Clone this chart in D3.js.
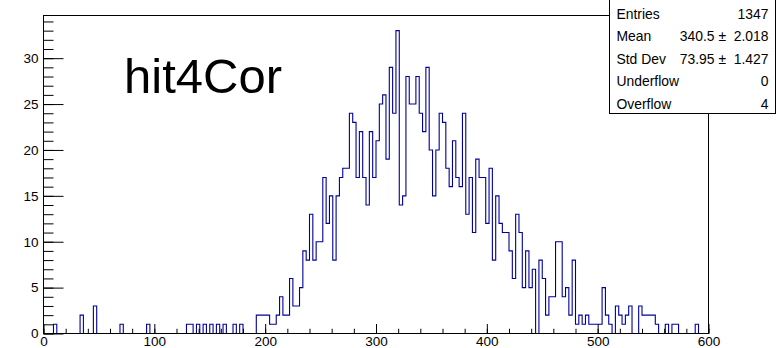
<!DOCTYPE html>
<html>
<head>
<meta charset="utf-8">
<script src="https://cdn.jsdelivr.net/npm/d3@7"></script>
<style>
  html, body { margin: 0; padding: 0; background: #ffffff; }
  svg { display: block; }
  text { font-family: "Liberation Sans", Arial, Helvetica, sans-serif; fill: #000; }
</style>
</head>
<body>
<svg id="chart" width="776" height="348"></svg>
<script>
// Histogram "hit4Cor": 200 bins from 0 to 600
const histName = "hit4Cor";
const xMin = 0;
const xMax = 600;
const counts = [
  0, 0, 0, 1, 0, 0, 0, 0, 0, 0,
  0, 2, 0, 0, 0, 3, 0, 0, 0, 0,
  0, 0, 0, 1, 0, 0, 0, 0, 0, 0,
  0, 1, 0, 0, 0, 0, 0, 0, 0, 0,
  0, 0, 0, 1, 1, 0, 1, 0, 1, 0,
  1, 0, 1, 0, 1, 0, 0, 1, 0, 1,
  0, 0, 0, 0, 2, 2, 2, 2, 1, 1,
  2, 4, 2, 2, 6, 3, 3, 5, 9, 8,
  13, 8, 10, 10, 17, 12, 15, 8, 15, 17,
  18, 18, 24, 23, 17, 22, 17, 14, 22, 17,
  21, 25, 26, 19, 29, 24, 33, 14, 15, 28,
  25, 25, 28, 24, 22, 29, 20, 15, 20, 24,
  23, 18, 16, 21, 17, 16, 24, 13, 17, 11,
  19, 17, 17, 12, 18, 8, 15, 12, 11, 11,
  9, 6, 13, 11, 5, 9, 5, 7, 0, 8,
  6, 2, 4, 4, 10, 10, 4, 5, 2, 8,
  1, 2, 1, 2, 1, 1, 1, 1, 5, 2,
  1, 0, 3, 2, 1, 2, 3, 0, 0, 3,
  2, 2, 2, 2, 1, 0, 0, 1, 0, 1,
  1, 0, 0, 0, 0, 0, 1, 0, 0, 0
];

// Axis divisions
const xMajorTicks = [0, 100, 200, 300, 400, 500, 600];
const xMinorTicks = d3.range(0, 601, 20);
const yMajorTicks = [0, 5, 10, 15, 20, 25, 30];
const yMinorTicks = d3.range(0, 35, 1);

// Statistics box
const statNames = ["Entries", "Mean", "Std Dev", "Underflow", "Overflow"];
const statValues = ["1347", "340.5 \u00b1  2.018", "73.95 \u00b1  1.427", "0", "4"];

// ---- layout ----
const frame = { left: 43.5, right: 708.5, top: 15.5, bottom: 333.5 };
const lineColor = "#000099";
const labelSize = "13.5px";
const statSize = "13.9px";

const svg = d3.select("#chart");

const x = d3.scaleLinear().domain([xMin, xMax]).range([frame.left, frame.right]);
const yTop = d3.max(counts) * 1.05;
const y = d3.scaleLinear().domain([0, yTop]).range([frame.bottom, frame.top]);

// ---- histogram outline ----
const binWidth = (xMax - xMin) / counts.length;
const outline = [[xMin, 0]];
counts.forEach((c, i) => {
  outline.push([xMin + i * binWidth, c]);
  outline.push([xMin + (i + 1) * binWidth, c]);
});
outline.push([xMax, 0]);

svg.append("path")
  .attr("d", d3.line().x(d => x(d[0])).y(d => y(d[1]))(outline))
  .attr("fill", "none")
  .attr("stroke", lineColor)
  .attr("stroke-width", 1.1);

// ---- axes (ticks point into the frame) ----
function styleAxis(g) {
  g.select(".domain").remove();
  g.attr("font-family", null).attr("font-size", null);
  g.selectAll(".tick line").attr("stroke", "#000").attr("stroke-width", 1);
  g.selectAll(".tick text").style("font-size", labelSize);
}

svg.append("g")
  .attr("transform", `translate(0,${frame.bottom})`)
  .call(d3.axisBottom(x).tickValues(xMinorTicks).tickSize(-4.75).tickSizeOuter(0).tickFormat(() => ""))
  .call(styleAxis);

svg.append("g")
  .attr("transform", `translate(0,${frame.bottom})`)
  .call(d3.axisBottom(x).tickValues(xMajorTicks).tickSize(-9.5).tickSizeOuter(0).tickPadding(2.5).tickFormat(d3.format("d")))
  .call(styleAxis);

svg.append("g")
  .attr("transform", `translate(${frame.left},0)`)
  .call(d3.axisLeft(y).tickValues(yMinorTicks).tickSize(-10).tickSizeOuter(0).tickFormat(() => ""))
  .call(styleAxis);

svg.append("g")
  .attr("transform", `translate(${frame.left},0)`)
  .call(d3.axisLeft(y).tickValues(yMajorTicks).tickSize(-20).tickSizeOuter(0).tickPadding(5).tickFormat(d3.format("d")))
  .call(styleAxis);

// ---- frame ----
svg.append("rect")
  .attr("x", frame.left).attr("y", frame.top)
  .attr("width", frame.right - frame.left).attr("height", frame.bottom - frame.top)
  .attr("fill", "none").attr("stroke", "#000").attr("stroke-width", 1)
  .attr("shape-rendering", "crispEdges");

// ---- large name label ----
svg.append("text")
  .attr("x", 124).attr("y", 93)
  .style("font-size", "49px")
  .text(histName);

// ---- statistics box ----
const box = { x0: 609.5, x1: 775.5, y0: -22.5, y1: 113.5 };
const rowH = 22.6;
svg.append("rect")
  .attr("x", box.x0).attr("y", box.y0)
  .attr("width", box.x1 - box.x0).attr("height", box.y1 - box.y0)
  .attr("fill", "#fff").attr("stroke", "#000").attr("stroke-width", 1)
  .attr("shape-rendering", "crispEdges");

const rows = svg.append("g").selectAll("g")
  .data(statNames.map((n, i) => ({ name: n, value: statValues[i], i })))
  .join("g")
  .attr("transform", d => `translate(0,${13.5 + d.i * rowH})`);

rows.append("text")
  .attr("x", box.x0 + 7)
  .attr("dominant-baseline", "central")
  .style("font-size", statSize)
  .text(d => d.name);

rows.append("text")
  .attr("x", box.x1 - 7)
  .attr("text-anchor", "end")
  .attr("dominant-baseline", "central")
  .style("font-size", statSize)
  .style("white-space", "pre")
  .text(d => d.value);
</script>
</body>
</html>
